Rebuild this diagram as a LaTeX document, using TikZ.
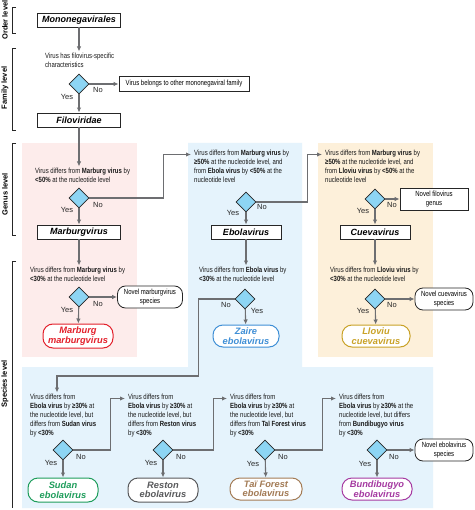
\documentclass[tikz,border=0pt]{standalone}
\usepackage{fontspec}
\setmainfont{Liberation Sans}
\newfontfamily\condfont[FakeStretch=0.8]{Liberation Sans}
\usetikzlibrary{shapes.geometric,arrows.meta}

\definecolor{pinkbg}{HTML}{FDECEB}
\definecolor{bluebg}{HTML}{E5F3FC}
\definecolor{orangebg}{HTML}{FDF0DA}
\definecolor{diafill}{HTML}{8DD5F4}
\definecolor{linegray}{HTML}{6D6E71}
\definecolor{marcol}{HTML}{E3202B}
\definecolor{zaicol}{HTML}{3F8FD6}
\definecolor{llocol}{HTML}{C9A227}
\definecolor{sudcol}{HTML}{1E9D5B}
\definecolor{rescol}{HTML}{58595B}
\definecolor{taicol}{HTML}{A37B55}
\definecolor{buncol}{HTML}{A53AA1}

\tikzset{
  arr/.style={->, >={Latex[length=5pt,width=4.5pt]}, draw=linegray, line width=1.1pt},
  qtext/.style={anchor=north west, inner sep=0pt, align=left, text=black!90,
    font=\condfont\fontsize{7.5}{9}\selectfont},
  dia/.style={diamond, draw=black!85, fill=diafill, line width=0.8pt,
    minimum width=20pt, minimum height=20pt, inner sep=0pt},
  taxbox/.style={draw=black!85, fill=white, line width=0.9pt, minimum width=83pt,
    minimum height=14pt, inner sep=0pt, font=\fontsize{9}{9}\selectfont\bfseries\itshape},
  outbox/.style={draw=black!85, fill=white, line width=0.8pt, inner sep=0pt, align=center,
    font=\condfont\fontsize{7.5}{8.5}\selectfont},
  newbox/.style={outbox, rounded corners=8pt},
  sppbox/.style={draw=#1, text=#1, fill=white, line width=1pt, rounded corners=10pt,
    minimum width=70pt, minimum height=24pt, inner sep=0pt, align=center,
    font=\fontsize{9.3}{9.5}\selectfont\bfseries\itshape},
  yn/.style={font=\fontsize{7.5}{8}\selectfont, text=black!85, inner sep=0pt},
  lvl/.style={rotate=90, font=\fontsize{7.5}{8}\selectfont\bfseries, inner sep=0pt},
  bracket/.style={draw=black!85, line width=0.9pt},
}

\begin{document}
\begin{tikzpicture}[x=1pt, y=-1pt]
\fill[white] (0,0) rectangle (474,510);

% panels
\fill[pinkbg] (22,143) rectangle (137,357);
\fill[orangebg] (318,143) rectangle (433,357);
\fill[bluebg] (188,143) -- (302,143) -- (302,367) -- (433,367) -- (433,508)
  -- (22,508) -- (22,367) -- (188,367) -- cycle;

% levels
\draw[bracket] (16,7) -- (12,7) -- (12,33) -- (16,33);
\draw[bracket] (16,48) -- (12,48) -- (12,130) -- (16,130);
\draw[bracket] (16,143) -- (12,143) -- (12,235) -- (16,235);
\draw[bracket] (16,261) -- (12,261) -- (12,508);
\node[lvl] (lord) at (5,20) {Order level};
\node[lvl] (lfam) at (5,88) {Family level};
\node[lvl] (lgen) at (5,194) {Genus level};
\node[lvl] (lspe) at (5,384) {Species level};

% order and family
\node[taxbox] (mono) at (79,20) {Mononegavirales};
\node[qtext] (q1) at (45,53) {Virus has filovirus-specific\\characteristics};
\node[dia] (d1) at (79,84) {};
\node[outbox, minimum width=130pt, minimum height=15pt] (other) at (184,84)
  {Virus belongs to other mononegaviral family};
\node[taxbox] (filo) at (79,120) {Filoviridae};
\node[yn] (y1) at ([shift={(-12,13)}]d1) {Yes};
\node[yn] (n1) at ([shift={(19,6)}]d1) {No};

% genus
\node[qtext] (q2) at (35,168) {Virus differs from \textbf{Marburg virus} by\\
  \textbf{<50\%} at the nucleotide level};
\node[dia] (d2) at (79,198) {};
\node[taxbox] (marbg) at (79,232) {Marburgvirus};
\node[yn] (y2) at ([shift={(-12,12)}]d2) {Yes};
\node[yn] (n2) at ([shift={(19,7)}]d2) {No};

\node[qtext] (q3) at (194,150) {Virus differs from \textbf{Marburg virus} by\\
  \textbf{≥50\%} at the nucleotide level, and\\
  from \textbf{Ebola virus} by \textbf{<50\%} at the\\nucleotide level};
\node[dia] (d3) at (246,202) {};
\node[taxbox, minimum width=70pt] (ebolg) at (246,232) {Ebolavirus};
\node[yn] (y3) at ([shift={(-13,11)}]d3) {Yes};
\node[yn] (n3) at ([shift={(16,5)}]d3) {No};

\node[qtext] (q4) at (325,150) {Virus differs from \textbf{Marburg virus} by\\
  \textbf{≥50\%} at the nucleotide level, and\\
  from \textbf{Lloviu virus} by \textbf{<50\%} at the\\nucleotide level};
\node[dia] (d4) at (375,199) {};
\node[outbox, minimum width=68pt, minimum height=22pt] (newgen) at (434,199)
  {Novel filovirus\\genus};
\node[taxbox, minimum width=70pt] (cueg) at (375,232) {Cuevavirus};
\node[yn] (y4) at ([shift={(-12,12)}]d4) {Yes};
\node[yn] (n4) at ([shift={(17,6)}]d4) {No};

% species: marburg, zaire, lloviu
\node[qtext] (q5) at (30,267) {Virus differs from \textbf{Marburg virus} by\\
  \textbf{<30\%} at the nucleotide level};
\node[dia] (d5) at (79,297) {};
\node[newbox, minimum width=65pt, minimum height=22pt] (newmar) at (150,297)
  {Novel marburgvirus\\species};
\node[sppbox=marcol] (mspp) at (78,336) {Marburg\\marburgvirus};
\node[yn] (y5) at ([shift={(-12,13)}]d5) {Yes};
\node[yn] (n5) at ([shift={(19,7)}]d5) {No};

\node[qtext] (q6) at (199,267) {Virus differs from \textbf{Ebola virus} by\\
  \textbf{<30\%} at the nucleotide level};
\node[dia] (d6) at (245,299) {};
\node[sppbox=zaicol, minimum width=66pt, minimum height=22pt] (zspp) at (246,336)
  {Zaire\\ebolavirus};
\node[yn] (y6) at ([shift={(12,12)}]d6) {Yes};
\node[yn] (n6) at ([shift={(-19,6)}]d6) {No};

\node[qtext] (q7) at (330,267) {Virus differs from \textbf{Lloviu virus} by\\
  \textbf{<30\%} at the nucleotide level};
\node[dia] (d7) at (375,299) {};
\node[newbox, minimum width=58pt, minimum height=22pt] (newcue) at (444,299)
  {Novel cuevavirus\\species};
\node[sppbox=llocol, minimum width=68pt, minimum height=22pt] (lspp) at (376,336)
  {Lloviu\\cuevavirus};
\node[yn] (y7) at ([shift={(-12,12)}]d7) {Yes};
\node[yn] (n7) at ([shift={(17,6)}]d7) {No};

% species: other ebolaviruses
\node[qtext] (q8) at (30,394) {Virus differs from\\
  \textbf{Ebola virus} by \textbf{≥30\%} at\\the nucleotide level, but\\
  differs from \textbf{Sudan virus}\\by \textbf{<30\%}};
\node[dia] (d8) at (63,450) {};
\node[sppbox=sudcol] (sspp) at (63,490) {Sudan\\ebolavirus};
\node[yn] (y8) at ([shift={(-12,13)}]d8) {Yes};
\node[yn] (n8) at ([shift={(18,7)}]d8) {No};

\node[qtext] (q9) at (128,394) {Virus differs from\\
  \textbf{Ebola virus} by \textbf{≥30\%} at\\the nucleotide level, but\\
  differs from \textbf{Reston virus}\\by \textbf{<30\%}};
\node[dia] (d9) at (163,450) {};
\node[sppbox=rescol] (rspp) at (163,490) {Reston\\ebolavirus};
\node[yn] (y9) at ([shift={(-12,13)}]d9) {Yes};
\node[yn] (n9) at ([shift={(18,7)}]d9) {No};

\node[qtext] (q10) at (230,394) {Virus differs from\\
  \textbf{Ebola virus} by \textbf{≥30\%} at\\the nucleotide level, but\\
  differs from \textbf{Taï Forest virus}\\by \textbf{<30\%}};
\node[dia] (d10) at (265,450) {};
\node[sppbox=taicol, minimum width=72pt, minimum height=22pt] (tspp) at (266,489)
  {Taï Forest\\ebolavirus};
\node[yn] (y10) at ([shift={(-12,14)}]d10) {Yes};
\node[yn] (n10) at ([shift={(18,7)}]d10) {No};

\node[qtext] (q11) at (339,394) {Virus differs from\\
  \textbf{Ebola virus} by \textbf{≥30\%} at the\\nucleotide level, but differs\\
  from \textbf{Bundibugyo virus}\\by \textbf{<30\%}};
\node[dia] (d11) at (377,450) {};
\node[newbox, minimum width=58pt, minimum height=22pt] (newebo) at (444,450)
  {Novel ebolavirus\\species};
\node[sppbox=buncol, minimum width=70pt, minimum height=22pt] (bspp) at (377,489)
  {Bundibugyo\\ebolavirus};
\node[yn] (y11) at ([shift={(-12,14)}]d11) {Yes};
\node[yn] (n11) at ([shift={(17,7)}]d11) {No};

% connectors
\draw[arr, shorten >=1.5pt] (mono) -- (mono |- q1.north);
\draw[arr] (d1) -- (other);
\draw[arr] (d1) -- (filo);
\draw[arr, shorten >=1.5pt] (filo) -- (filo |- q2.north);
\draw[arr] (d2) -- (marbg);
\draw[arr] (d2.east) -- ++(74,0) |- ([xshift=-3pt,yshift=-4.5pt]q3.north west);
\draw[arr] (d3) -- (ebolg);
\draw[arr] (d3.east) -- ++(51,0) |- ([xshift=-3pt,yshift=-4.5pt]q4.north west);
\draw[arr] (d4) -- (cueg);
\draw[arr] (d4) -- (newgen);
\draw[arr, shorten >=1.5pt] (marbg) -- (marbg |- q5.north);
\draw[arr] (d5) -- (mspp);
\draw[arr] (d5) -- (newmar);
\draw[arr, shorten >=1.5pt] (ebolg) -- (ebolg |- q6.north);
\draw[arr] (d6) -- (zspp);
\draw[arr] (d6.west) -- ++(-36,0) -- ++(0,77) -| ([xshift=27pt,yshift=1.5pt]q8.north west);
\draw[arr, shorten >=1.5pt] (cueg) -- (cueg |- q7.north);
\draw[arr] (d7) -- (lspp);
\draw[arr] (d7) -- (newcue);
\draw[arr] (d8) -- (sspp);
\draw[arr] (d8.east) -- ++(37,0) |- ([xshift=-3pt,yshift=-4.5pt]q9.north west);
\draw[arr] (d9) -- (rspp);
\draw[arr] (d9.east) -- ++(40,0) |- ([xshift=-3pt,yshift=-4.5pt]q10.north west);
\draw[arr] (d10) -- (tspp);
\draw[arr] (d10.east) -- ++(47,0) |- ([xshift=-3pt,yshift=-4.5pt]q11.north west);
\draw[arr] (d11) -- (bspp);
\draw[arr] (d11) -- (newebo);
\end{tikzpicture}
\end{document}
